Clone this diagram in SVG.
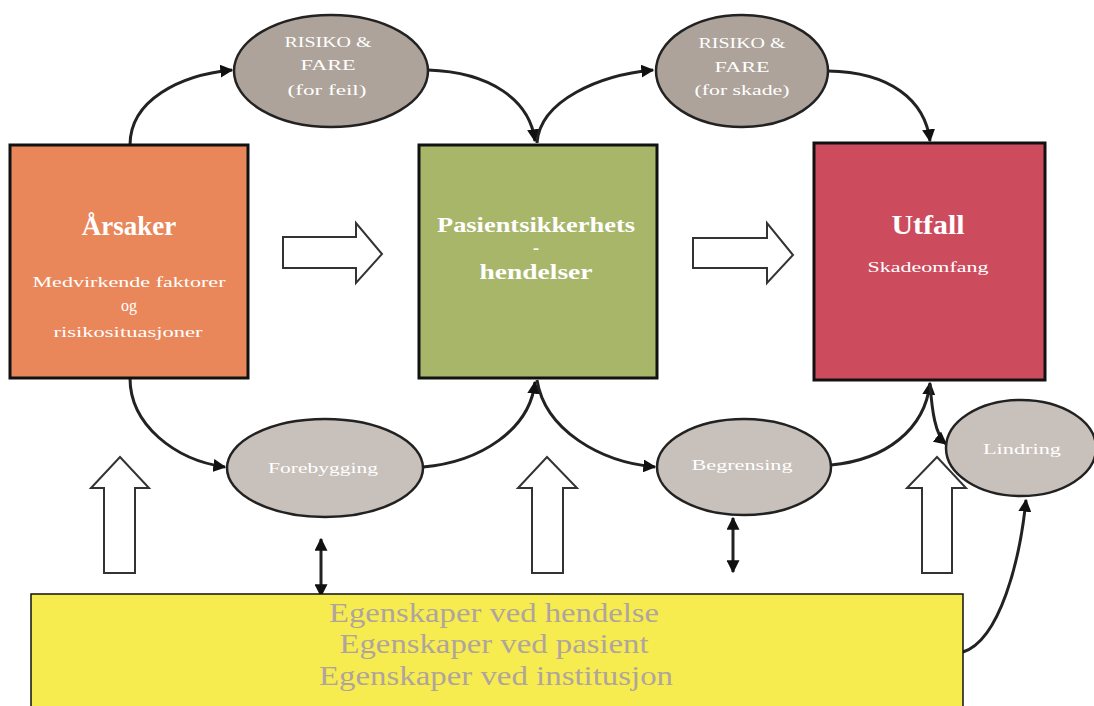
<svg xmlns="http://www.w3.org/2000/svg" width="1094" height="706" viewBox="0 0 1094 706">
<style>
text{font-family:"Liberation Serif","DejaVu Serif",serif;text-anchor:middle;fill:#fff}
.box{stroke:#111;stroke-width:3}
.ell{stroke:#222;stroke-width:2.5}
.dark{fill:#ADA39A}
.light{fill:#C8C0BA}
.blk{fill:#fff;stroke:#333;stroke-width:2}
.con{fill:none;stroke:#222;stroke-width:3}
.sm{font-size:15px}
.yt{fill:#B0A49E;font-size:27px}
</style>
<defs>
<marker id="ah" viewBox="0 0 10 10" refX="9" refY="5" markerWidth="13" markerHeight="13" markerUnits="userSpaceOnUse" orient="auto-start-reverse">
<path d="M0,0 L10,5 L0,10 z" fill="#111"/>
</marker>
</defs>
<rect width="1094" height="706" fill="#fff"/>

<g id="connectors">
<path class="con" d="M130,145 C130,100 180,75 232,70" marker-end="url(#ah)"/>
<path class="con" d="M428,70 C490,72 530,100 535,141" marker-end="url(#ah)"/>
<path class="con" d="M537,143 C540,100 600,75 653,70" marker-end="url(#ah)"/>
<path class="con" d="M828,71 C890,72 925,100 930,141" marker-end="url(#ah)"/>
<path class="con" d="M130,378 C130,425 175,460 225,467" marker-end="url(#ah)"/>
<path class="con" d="M423,467 C480,462 530,430 535,382" marker-end="url(#ah)"/>
<path class="con" d="M537,380 C545,430 600,462 655,467" marker-end="url(#ah)"/>
<path class="con" d="M831,465 C885,460 925,430 930,383" marker-end="url(#ah)"/>
<path class="con" d="M930,384 C932,410 935,435 946,444" marker-end="url(#ah)"/>
<path class="con" d="M963,652 C1000,640 1020,560 1026,500" marker-end="url(#ah)"/>
<path class="con" d="M321,596 L321,539" marker-start="url(#ah)" marker-end="url(#ah)"/>
<path class="con" d="M733,572 L733,518" marker-start="url(#ah)" marker-end="url(#ah)"/>
</g>

<g id="block-arrows">
<path class="blk" d="M283,237 L356,237 L356,223 L382,254 L356,283 L356,268 L283,268 Z"/>
<path class="blk" d="M693,238 L767,238 L767,223 L793,255 L767,283 L767,268 L693,268 Z"/>
<path class="blk" d="M104,573 L104,488 L91,488 L120,457 L149,488 L135,488 L135,573 Z"/>
<path class="blk" d="M532,573 L532,488 L518,488 L547,457 L577,488 L563,488 L563,573 Z"/>
<path class="blk" d="M922,573 L922,488 L907,488 L937,457 L966,488 L952,488 L952,573 Z"/>
</g>

<g id="arsaker">
<rect class="box" x="10" y="145" width="238" height="233" fill="#E9875B"/>
<text x="129" y="235" font-size="27" font-weight="bold">Årsaker</text>
<text x="129" y="287" class="sm" textLength="193" lengthAdjust="spacingAndGlyphs">Medvirkende faktorer</text>
<text x="129" y="311" font-size="16">og</text>
<text x="128" y="337" class="sm" textLength="149" lengthAdjust="spacingAndGlyphs">risikosituasjoner</text>
</g>

<g id="pasient">
<rect class="box" x="419" y="145" width="238" height="233" fill="#A8B66A"/>
<text x="536" y="232" font-size="20" font-weight="bold" textLength="198" lengthAdjust="spacingAndGlyphs">Pasientsikkerhets</text>
<text x="536" y="254" font-size="18" font-weight="bold">-</text>
<text x="536" y="279" font-size="20" font-weight="bold" textLength="113" lengthAdjust="spacingAndGlyphs">hendelser</text>
</g>

<g id="utfall">
<rect class="box" x="814" y="143" width="231" height="237" fill="#CC4C5E"/>
<text x="928" y="234" font-size="27" font-weight="bold" textLength="73" lengthAdjust="spacingAndGlyphs">Utfall</text>
<text x="928" y="272" class="sm" textLength="121" lengthAdjust="spacingAndGlyphs">Skadeomfang</text>
</g>

<g id="risiko-feil">
<ellipse class="ell dark" cx="331" cy="71" rx="97" ry="56"/>
<text x="328" y="47" class="sm" textLength="87" lengthAdjust="spacingAndGlyphs">RISIKO &amp;</text>
<text x="328" y="70" class="sm" textLength="55" lengthAdjust="spacingAndGlyphs">FARE</text>
<text x="327" y="95" class="sm" textLength="79" lengthAdjust="spacingAndGlyphs">(for feil)</text>
</g>

<g id="risiko-skade">
<ellipse class="ell dark" cx="742" cy="71" rx="86" ry="56"/>
<text x="742" y="48" class="sm" textLength="87" lengthAdjust="spacingAndGlyphs">RISIKO &amp;</text>
<text x="742" y="72" class="sm" textLength="55" lengthAdjust="spacingAndGlyphs">FARE</text>
<text x="742" y="95" class="sm" textLength="95" lengthAdjust="spacingAndGlyphs">(for skade)</text>
</g>

<g id="forebygging">
<ellipse class="ell light" cx="325" cy="468" rx="98" ry="49"/>
<text x="323" y="473" class="sm" textLength="110" lengthAdjust="spacingAndGlyphs">Forebygging</text>
</g>

<g id="begrensing">
<ellipse class="ell light" cx="744" cy="467" rx="87" ry="48"/>
<text x="742" y="470" class="sm" textLength="101" lengthAdjust="spacingAndGlyphs">Begrensing</text>
</g>

<g id="lindring">
<ellipse class="ell light" cx="1021" cy="448" rx="75" ry="48"/>
<text x="1022" y="454" class="sm" textLength="78" lengthAdjust="spacingAndGlyphs">Lindring</text>
</g>

<g id="egenskaper">
<path d="M31,706 L31,594 L963,594 L963,706" fill="#F6EC50" stroke="#111" stroke-width="1.5"/>
<text x="494" y="622" class="yt" textLength="330" lengthAdjust="spacingAndGlyphs">Egenskaper ved hendelse</text>
<text x="494" y="653" class="yt" textLength="309" lengthAdjust="spacingAndGlyphs">Egenskaper ved pasient</text>
<text x="496" y="685" class="yt" textLength="354" lengthAdjust="spacingAndGlyphs">Egenskaper ved institusjon</text>
</g>
</svg>
